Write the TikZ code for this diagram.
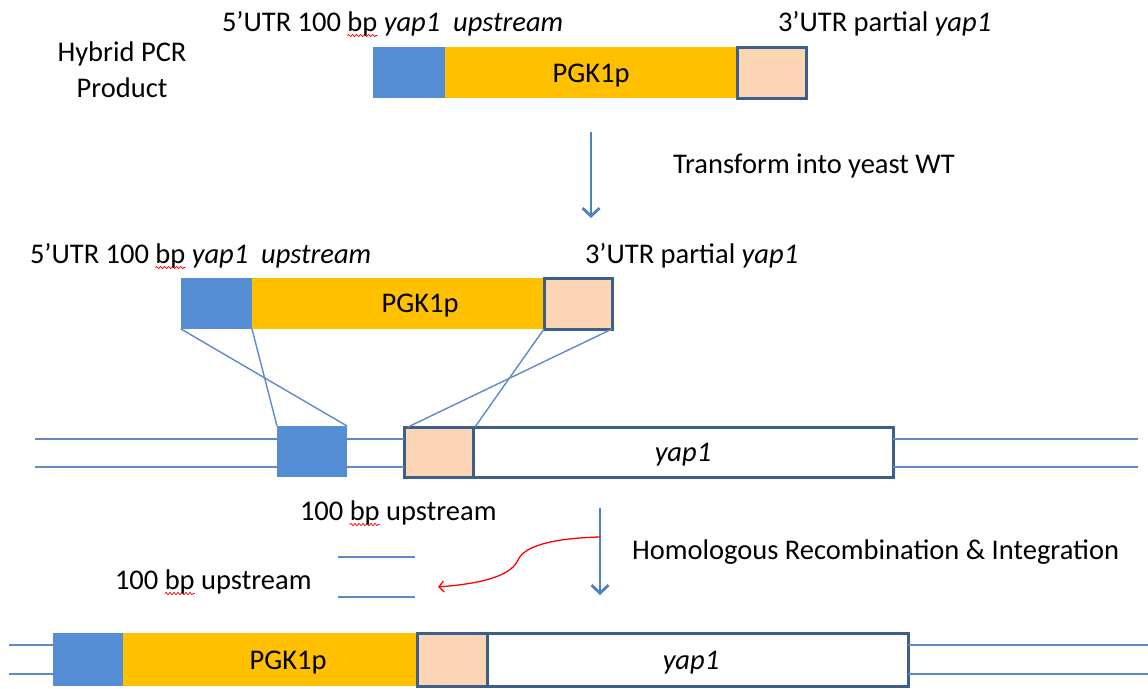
\documentclass[tikz,border=0pt]{standalone}
\usepackage{fontspec}
\setmainfont{Carlito}
\usetikzlibrary{arrows.meta,decorations.pathmorphing}
\definecolor{boxblue}{HTML}{558ED5}
\definecolor{geneyel}{HTML}{FFC000}
\definecolor{peach}{HTML}{FCD5B5}
\definecolor{outl}{HTML}{3E5F8C}
\definecolor{dnablue}{HTML}{5F8AC6}
\definecolor{arrblue}{HTML}{4F81BD}
\newsavebox\splbox
\newcommand\spl[1]{\sbox\splbox{#1}\makebox[0pt][l]{\tikz[overlay,x=1pt,y=1pt]\draw[red,line width=0.7pt,decorate,decoration={snake,amplitude=1.1pt,segment length=4pt}] (0pt,-4.5pt) -- (\wd\splbox,-4.5pt);}\usebox\splbox}
\tikzset{
  seg/.style={rectangle, inner sep=0pt, outer sep=0pt, anchor=north west},
  bluebox/.style={seg, fill=boxblue},
  yelbox/.style={seg, fill=geneyel},
  peachbox/.style={seg, fill=peach, draw=outl, line width=3pt},
  genebox/.style={seg, fill=white, draw=outl, line width=3pt},
  dna/.style={draw=dnablue, line width=1.5pt},
  xline/.style={draw=dnablue, line width=1.4pt},
  lbl/.style={font=\fontsize{28.5}{36}\selectfont, inner sep=0pt, outer sep=0pt},
  flow/.style={draw=arrblue, line width=2.8pt, -{Straight Barb[length=8pt,width=17pt]}},
  redflow/.style={draw=red, line width=1.3pt, -{Straight Barb[length=5pt,width=11pt]}}
}
\begin{document}
\begin{tikzpicture}[x=1pt,y=-1pt]
\useasboundingbox (0,0) rectangle (1148,688);

% ---------- Row 1 : hybrid PCR product ----------
\node[lbl, align=center, anchor=base] (hyb) at (122,97) {Hybrid PCR\\Product};
\node[lbl, anchor=base west] (r1l) at (222,31) {5’UTR 100 \spl{bp} \textit{yap1 \ upstream}};
\node[lbl, anchor=base west] (r1r) at (778,31) {3’UTR partial \textit{yap1}};
\node[bluebox, minimum width=72pt, minimum height=51pt] (b1) at (373,47) {};
\node[yelbox, minimum width=292pt, minimum height=51pt] (y1) at (445,47) {};
\node[peachbox, minimum width=69pt, minimum height=51pt] (p1) at (737,47) {};
\node[lbl, anchor=base] (t1) at (591,82) {PGK1p};

% arrow 1
\coordinate (a1s) at (591,132);
\coordinate (a1e) at (591,218);
\draw[flow] (a1s) -- (a1e);
\node[lbl, anchor=base west] (tr) at (673,173) {Transform into yeast WT};

% ---------- Row 2 ----------
\node[lbl, anchor=base west] (r2l) at (30,263) {5’UTR 100 \spl{bp} \textit{yap1 \ upstream}};
\node[lbl, anchor=base west] (r2r) at (585,263) {3’UTR partial \textit{yap1}};
\node[bluebox, minimum width=71pt, minimum height=51pt] (b2) at (181,278) {};
\node[yelbox, minimum width=292pt, minimum height=51pt] (y2) at (252,278) {};
\node[peachbox, minimum width=68pt, minimum height=51pt] (p2) at (544,278) {};
\node[lbl, anchor=base] (t2) at (420,312) {PGK1p};

% ---------- Genomic locus ----------
\node[bluebox, minimum width=70pt, minimum height=51pt] (gb) at (277,426) {};
\node[peachbox, minimum width=69pt, minimum height=50pt] (gp) at (404,427) {};
\node[genebox, minimum width=420pt, minimum height=50pt] (gy) at (473,427) {};
\node[lbl, anchor=base] (gyt) at (683,461) {\textit{yap1}};
\coordinate (gl1) at (35,439);
\coordinate (gl2) at (35,467);
\coordinate (gr1) at (1138,439);
\coordinate (gr2) at (1138,467);
\draw[dna] (gl1) -- (gb.west |- gl1);
\draw[dna] (gl2) -- (gb.west |- gl2);
\draw[dna] (gb.east |- gl1) -- (gp.west |- gl1);
\draw[dna] (gb.east |- gl2) -- (gp.west |- gl2);
\draw[dna] (gy.east |- gr1) -- (gr1);
\draw[dna] (gy.east |- gr2) -- (gr2);

% crossover lines
\draw[xline] (b2.south west) -- (gb.north east);
\draw[xline] (b2.south east) -- (gb.north west);
\draw[xline] (p2.south east) -- ([xshift=4pt]gp.north west);
\draw[xline] (p2.south west) -- ([xshift=2pt]gp.north east);

% ---------- Recombination ----------
\node[lbl, anchor=base west] (up1) at (300,520) {100 \spl{bp} upstream};
\node[lbl, anchor=base west] (up2) at (115,589) {100 \spl{bp} upstream};
\coordinate (s1a) at (338,557);
\coordinate (s1b) at (415,557);
\coordinate (s2a) at (338,597);
\coordinate (s2b) at (415,597);
\draw[dna] (s1a) -- (s1b);
\draw[dna] (s2a) -- (s2b);

\coordinate (a2s) at (600,508);
\coordinate (a2e) at (600,595);
\draw[flow] (a2s) -- (a2e);
\node[lbl, anchor=base west] (hr) at (632,559) {Homologous Recombination \& Integration};

\coordinate (rs) at (600,537);
\coordinate (re) at (438,587);
\draw[redflow] (rs) .. controls (560,538) and (525,544) .. (518,560)
               .. controls (510,578) and (475,584) .. (re);

% ---------- Final locus ----------
\node[bluebox, minimum width=70pt, minimum height=53pt] (fb) at (53,633) {};
\node[yelbox, minimum width=294pt, minimum height=53pt] (fy) at (123,633) {};
\node[peachbox, minimum width=70pt, minimum height=53pt] (fp) at (417,633) {};
\node[genebox, minimum width=421pt, minimum height=53pt] (fg) at (487,633) {};
\node[lbl, anchor=base] (ft) at (288,669) {PGK1p};
\node[lbl, anchor=base] (fgt) at (691,669) {\textit{yap1}};
\coordinate (fl1) at (9,645);
\coordinate (fl2) at (9,674);
\coordinate (fr1) at (1148,645);
\coordinate (fr2) at (1148,674);
\draw[dna] (fl1) -- (fb.west |- fl1);
\draw[dna] (fl2) -- (fb.west |- fl2);
\draw[dna] (fg.east |- fr1) -- (fr1);
\draw[dna] (fg.east |- fr2) -- (fr2);
\end{tikzpicture}
\end{document}
